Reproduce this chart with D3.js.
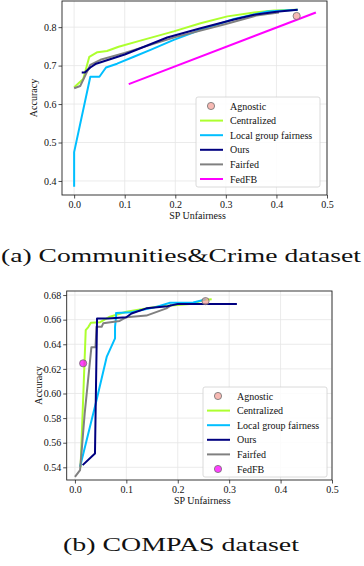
<!DOCTYPE html>
<html>
<head>
<meta charset="utf-8">
<script src="https://cdn.jsdelivr.net/npm/d3@7"></script>
<style>
  body { margin: 0; background: #fff; }
  svg { display: block; font-family: "Liberation Serif", "DejaVu Serif", serif; }
</style>
</head>
<body>
<svg id="chart" width="364" height="566"></svg>
<script>
// Communities&Crime panel: [SP unfairness, accuracy]
const crimeCentralized = [[0.0, 0.644], [0.018, 0.665], [0.030, 0.723], [0.046, 0.735], [0.065, 0.738],
  [0.088, 0.749], [0.131, 0.765], [0.197, 0.789], [0.25, 0.810], [0.303, 0.828], [0.356, 0.838],
  [0.395, 0.843], [0.442, 0.845]];
const crimeLocal = [[0.0, 0.385], [0.0, 0.475], [0.032, 0.671], [0.050, 0.671], [0.063, 0.695],
  [0.085, 0.705], [0.118, 0.723], [0.151, 0.741], [0.197, 0.767], [0.25, 0.793], [0.316, 0.821],
  [0.382, 0.841], [0.442, 0.845]];
const crimeOurs = [[0.015, 0.682], [0.021, 0.682], [0.032, 0.695], [0.042, 0.704], [0.1, 0.729],
  [0.184, 0.773], [0.25, 0.797], [0.316, 0.820], [0.356, 0.832], [0.40, 0.840], [0.442, 0.845]];
const crimeFairfed = [[0.0, 0.641], [0.012, 0.647], [0.032, 0.702], [0.052, 0.715], [0.1, 0.733],
  [0.2, 0.774], [0.3, 0.808], [0.36, 0.830], [0.405, 0.838]];
const crimeFedFB = [[0.108, 0.652], [0.478, 0.838]];
const crimeAgnostic = [[0.440, 0.829]];

// COMPAS panel
const compasCentralized = [[0.011, 0.540], [0.021, 0.6515], [0.026, 0.654], [0.031, 0.6575],
  [0.049, 0.658], [0.068, 0.6624], [0.1, 0.6664], [0.159, 0.6705], [0.2, 0.672], [0.23, 0.673],
  [0.25, 0.676], [0.266, 0.6765]];
const compasLocal = [[0.01, 0.5404], [0.042, 0.5946], [0.062, 0.630], [0.078, 0.6448], [0.078, 0.6542],
  [0.080, 0.6624], [0.080, 0.6655], [0.11, 0.666], [0.155, 0.670], [0.185, 0.6737], [0.23, 0.674],
  [0.25, 0.676], [0.255, 0.677]];
const compasOurs = [[0.015, 0.5418], [0.039, 0.5513], [0.043, 0.661], [0.064, 0.661], [0.1, 0.662],
  [0.11, 0.665], [0.139, 0.6692], [0.18, 0.671], [0.2, 0.6727], [0.315, 0.6727]];
const compasFairfed = [[0.0, 0.5323], [0.01, 0.5377], [0.019, 0.5838], [0.032, 0.6375], [0.040, 0.6375],
  [0.042, 0.6542], [0.052, 0.6542], [0.055, 0.657], [0.087, 0.659], [0.1, 0.662], [0.139, 0.6633],
  [0.178, 0.6692], [0.188, 0.672]];
const compasAgnostic = [[0.254, 0.6751]];
const compasFedFB = [[0.016, 0.6245]];

const xTicks = [0.0, 0.1, 0.2, 0.3, 0.4, 0.5];
const crimeYTicks = [0.4, 0.5, 0.6, 0.7, 0.8];
const compasYTicks = [0.54, 0.56, 0.58, 0.60, 0.62, 0.64, 0.66, 0.68];

const colors = {
  Agnostic: '#f4a29a',
  Centralized: '#adff2f',
  'Local group fairness': '#00bfff',
  Ours: '#000080',
  Fairfed: '#808080',
  FedFB: '#ff00ff',
};

const svg = d3.select('#chart');

function drawPanel(cfg) {
  const x = d3.scaleLinear().domain(cfg.xDomain).range([cfg.left, cfg.right]);
  const y = d3.scaleLinear().domain(cfg.yDomain).range([cfg.bottom, cfg.top]);
  const g = svg.append('g');

  // grid
  g.append('g').selectAll('line.gx').data(xTicks).join('line')
    .attr('x1', (d) => x(d)).attr('x2', (d) => x(d))
    .attr('y1', cfg.top).attr('y2', cfg.bottom)
    .attr('stroke', '#e6e6e6').attr('stroke-width', 0.8);
  g.append('g').selectAll('line.gy').data(cfg.yTicks).join('line')
    .attr('x1', cfg.left).attr('x2', cfg.right)
    .attr('y1', (d) => y(d)).attr('y2', (d) => y(d))
    .attr('stroke', '#e6e6e6').attr('stroke-width', 0.8);

  const line = d3.line().x((d) => x(d[0])).y((d) => y(d[1]));
  cfg.lines.forEach(([name, data]) => {
    g.append('path').datum(data)
      .attr('d', line)
      .attr('fill', 'none')
      .attr('stroke', colors[name])
      .attr('stroke-width', 2)
      .attr('stroke-linejoin', 'round');
  });
  cfg.dots.forEach(([name, data]) => {
    g.append('g').selectAll('circle').data(data).join('circle')
      .attr('cx', (d) => x(d[0])).attr('cy', (d) => y(d[1]))
      .attr('r', 3.6)
      .attr('fill', colors[name]).attr('fill-opacity', 0.75)
      .attr('stroke', '#6e6e6e').attr('stroke-width', 0.8);
  });

  // axes
  const xAxis = g.append('g').attr('transform', `translate(0,${cfg.bottom})`)
    .call(d3.axisBottom(x).tickValues(xTicks).tickFormat(d3.format('.1f')).tickSize(3.5).tickPadding(2));
  const yAxis = g.append('g').attr('transform', `translate(${cfg.left},0)`)
    .call(d3.axisLeft(y).tickValues(cfg.yTicks).tickFormat(d3.format(cfg.yFormat)).tickSize(3.5).tickPadding(2));
  [xAxis, yAxis].forEach((a) => {
    a.select('.domain').remove();
    a.selectAll('line').attr('stroke', '#222').attr('stroke-width', 0.8);
    a.selectAll('text').attr('font-family', '"Liberation Serif", serif')
      .attr('font-size', 10).attr('fill', '#111');
  });
  g.append('rect')
    .attr('x', cfg.left).attr('y', cfg.top)
    .attr('width', cfg.right - cfg.left).attr('height', cfg.bottom - cfg.top)
    .attr('fill', 'none').attr('stroke', '#222').attr('stroke-width', 0.9);

  g.append('text')
    .attr('x', (cfg.left + cfg.right) / 2 + 3).attr('y', cfg.bottom + 24)
    .attr('text-anchor', 'middle').attr('font-size', 10).attr('fill', '#111')
    .text('SP Unfairness');
  g.append('text')
    .attr('transform', `translate(${cfg.left - 25},${(cfg.top + cfg.bottom) / 2}) rotate(-90)`)
    .attr('text-anchor', 'middle').attr('font-size', 10).attr('fill', '#111')
    .text('Accuracy');

  // legend
  const lg = g.append('g').attr('transform', `translate(${cfg.legend[0]},${cfg.legend[1]})`);
  lg.append('rect')
    .attr('width', 124).attr('height', 90).attr('rx', 2)
    .attr('fill', '#fff').attr('fill-opacity', 0.85)
    .attr('stroke', '#d0d0d0').attr('stroke-width', 0.8);
  cfg.legendItems.forEach(([name, kind], i) => {
    const cy = 9 + i * 14.6;
    if (kind === 'dot') {
      lg.append('circle').attr('cx', 15).attr('cy', cy).attr('r', 3.6)
        .attr('fill', colors[name]).attr('fill-opacity', 0.75)
        .attr('stroke', '#6e6e6e').attr('stroke-width', 0.8);
    } else {
      lg.append('line').attr('x1', 4).attr('x2', 27).attr('y1', cy).attr('y2', cy)
        .attr('stroke', colors[name]).attr('stroke-width', 2);
    }
    lg.append('text').attr('x', 34).attr('y', cy + 3.5)
      .attr('font-size', 10).attr('fill', '#111').text(name);
  });

  svg.append('text')
    .attr('x', 181).attr('y', cfg.caption[1])
    .attr('text-anchor', 'middle')
    .attr('font-size', 19).attr('fill', '#111')
    .attr('textLength', cfg.caption[2]).attr('lengthAdjust', 'spacingAndGlyphs')
    .text(cfg.caption[0]);
}

drawPanel({
  left: 62, right: 327, top: 1, bottom: 195,
  xDomain: [-0.024, 0.5], yDomain: [0.3635, 0.868],
  yTicks: crimeYTicks, yFormat: '.1f',
  lines: [['Centralized', crimeCentralized], ['Local group fairness', crimeLocal],
    ['Fairfed', crimeFairfed], ['Ours', crimeOurs], ['FedFB', crimeFedFB]],
  dots: [['Agnostic', crimeAgnostic]],
  legend: [196, 97],
  legendItems: [['Agnostic', 'dot'], ['Centralized', 'line'], ['Local group fairness', 'line'],
    ['Ours', 'line'], ['Fairfed', 'line'], ['FedFB', 'line']],
  caption: ['(a) Communities&Crime dataset', 262, 360],
});

drawPanel({
  left: 66.7, right: 332, top: 291, bottom: 480,
  xDomain: [-0.016, 0.5], yDomain: [0.5297, 0.6833],
  yTicks: compasYTicks, yFormat: '.2f',
  lines: [['Centralized', compasCentralized], ['Local group fairness', compasLocal],
    ['Fairfed', compasFairfed], ['Ours', compasOurs]],
  dots: [['Agnostic', compasAgnostic], ['FedFB', compasFedFB]],
  legend: [203, 387],
  legendItems: [['Agnostic', 'dot'], ['Centralized', 'line'], ['Local group fairness', 'line'],
    ['Ours', 'line'], ['Fairfed', 'line'], ['FedFB', 'dot']],
  caption: ['(b) COMPAS dataset', 551, 236],
});
</script>
</body>
</html>
